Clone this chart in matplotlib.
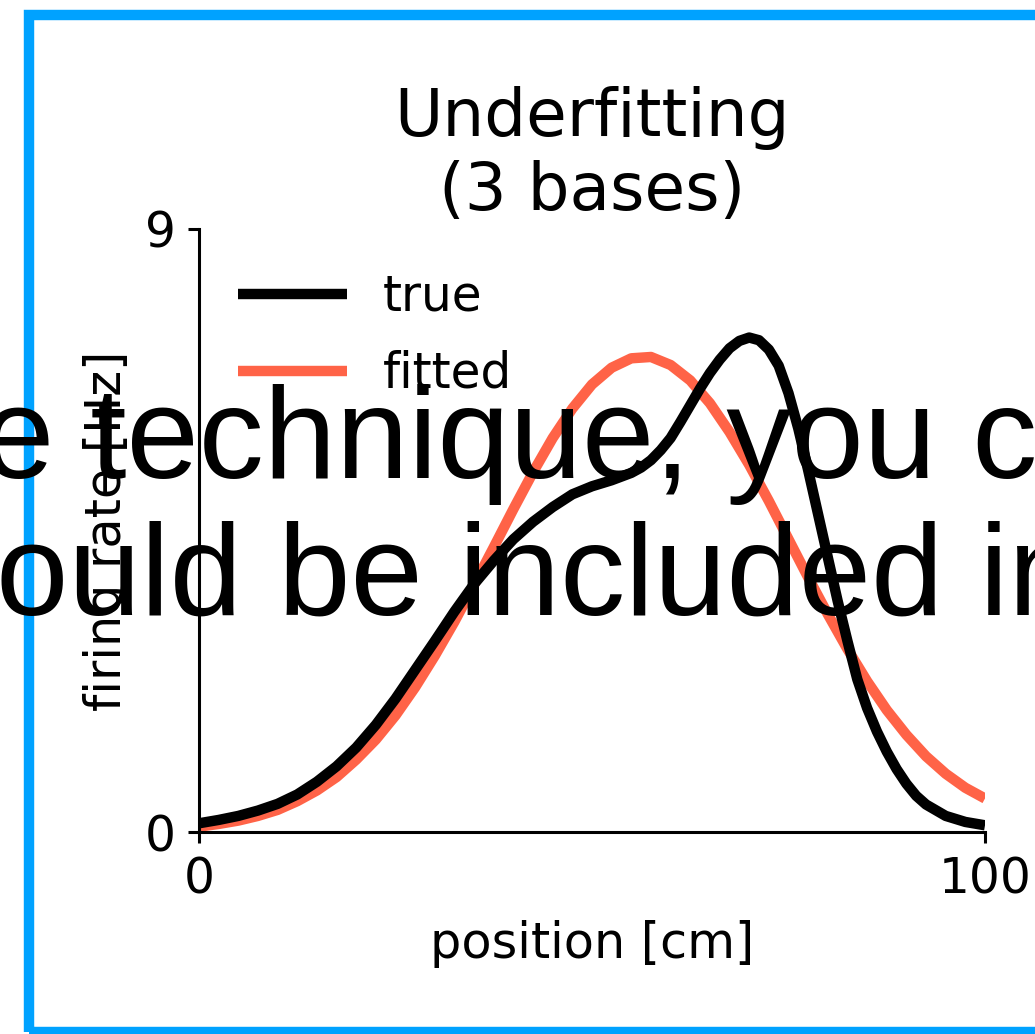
import matplotlib
matplotlib.use("Agg")
import matplotlib.pyplot as plt
from matplotlib.patches import Rectangle

# ---- data ----
position_true = [0, 2.5, 5, 7.5, 10, 12.5, 15, 17.5, 20, 22.5, 25, 27.5, 30, 32.5,
                 35, 37.5, 40, 42.5, 45, 47.5, 50, 52.5, 55, 56.25, 57.5, 58.75, 60,
                 61.25, 62.5, 63.75, 65, 66.25, 67.5, 68.75, 70, 71.25, 72.5, 73.75,
                 75, 76.25, 77.5, 78.75, 80, 81.25, 82.5, 83.75, 85, 86.25, 87.5,
                 88.75, 90, 91.25, 92.5, 95, 97.5, 100]
true_rate = [0.13, 0.18, 0.24, 0.32, 0.42, 0.56, 0.75, 0.98, 1.26, 1.60, 1.99, 2.42,
             2.85, 3.29, 3.70, 4.05, 4.37, 4.63, 4.85, 5.04, 5.16, 5.25, 5.36, 5.44,
             5.55, 5.70, 5.88, 6.12, 6.37, 6.62, 6.85, 7.05, 7.22, 7.33, 7.38, 7.34,
             7.20, 6.96, 6.55, 6.02, 5.40, 4.75, 4.10, 3.45, 2.85, 2.28, 1.85, 1.50,
             1.20, 0.94, 0.72, 0.54, 0.41, 0.24, 0.15, 0.10]

position_fit = [0, 2.5, 5, 7.5, 10, 12.5, 15, 17.5, 20, 22.5, 25, 27.5, 30, 32.5, 35,
                37.5, 40, 42.5, 45, 47.5, 50, 52.5, 55, 57.5, 60, 62.5, 65, 67.5, 70,
                72.5, 75, 77.5, 80, 82.5, 85, 87.5, 90, 92.5, 95, 97.5, 100]
fitted_rate = [0.08, 0.12, 0.17, 0.24, 0.33, 0.46, 0.62, 0.82, 1.08, 1.38, 1.74, 2.16,
               2.63, 3.14, 3.69, 4.25, 4.82, 5.37, 5.88, 6.32, 6.68, 6.93, 7.07, 7.09,
               6.97, 6.74, 6.40, 5.97, 5.48, 4.94, 4.37, 3.80, 3.25, 2.73, 2.25, 1.82,
               1.45, 1.13, 0.87, 0.66, 0.50]

x_ticks = [0, 100]
y_ticks = [0, 9]
title_text = "Underfitting\n(3 bases)"
overlay_line1 = "e technique, you c"
overlay_line2 = "ould be included in"

W, H = 1035, 1034
fig = plt.figure(figsize=(W / 100, H / 100), dpi=100)

ax = fig.add_axes([199 / W, (H - 832) / H, 786 / W, 603 / H])
ax.plot(position_true, true_rate, color="black", lw=7.5, label="true",
        solid_capstyle="butt", solid_joinstyle="round", zorder=3)
ax.plot(position_fit, fitted_rate, color="tomato", lw=7.5, label="fitted",
        solid_capstyle="butt", solid_joinstyle="round", zorder=2)
ax.set_xlim(0, 100)
ax.set_ylim(0, 9)
ax.set_xticks(x_ticks)
ax.set_yticks(y_ticks)
for s in ["top", "right"]:
    ax.spines[s].set_visible(False)
for s in ["left", "bottom"]:
    ax.spines[s].set_linewidth(2.2)
ax.tick_params(labelsize=35, length=8, width=2.2, pad=9)
ax.set_xlabel("position [cm]", fontsize=35.5, labelpad=12)
ax.set_ylabel("firing rate [Hz]", fontsize=35.5, labelpad=9.5)
ax.set_title(title_text, fontsize=47.5, pad=14, linespacing=1.2)
leg = ax.legend(loc="upper left", bbox_to_anchor=(-5 / 786, 1.0), frameon=False,
                fontsize=35, handlelength=2.25, handletextpad=0.73,
                labelspacing=0.6)
for h in leg.get_lines():
    h.set_solid_capstyle("butt")

# blue frame (right side lies outside the picture)
fig.patches.append(Rectangle((29 / W, (H - 1032) / H), 1.2, (1032 - 15) / H,
                             transform=fig.transFigure, fill=False,
                             edgecolor="#00A2FF", lw=7.5, zorder=10))

fig.text(-18 / W, (H - 478) / H, overlay_line1, fontsize=93.6,
         family="Liberation Sans", ha="left", va="baseline", zorder=20)
fig.text(-4 / W, (H - 615) / H, overlay_line2, fontsize=93.6,
         family="Liberation Sans", ha="left", va="baseline", zorder=20)

fig.savefig("out.png", dpi=100)
